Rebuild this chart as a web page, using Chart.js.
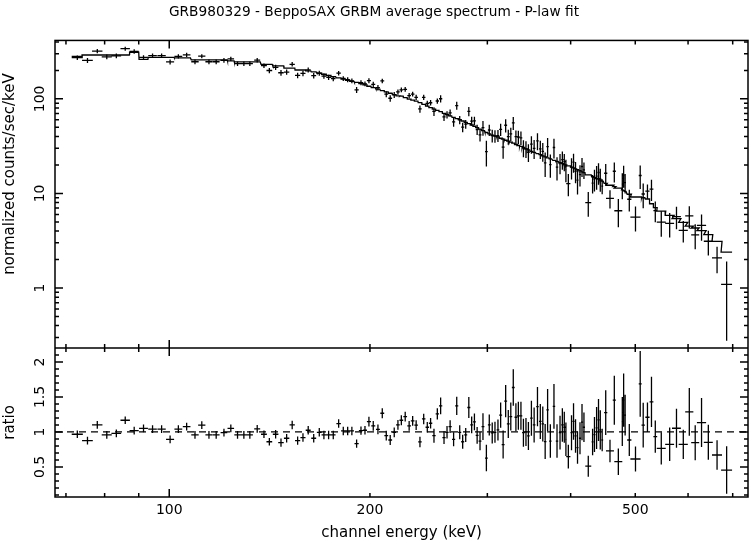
<!DOCTYPE html>
<html>
<head>
<meta charset="utf-8">
<title>GRB980329 - BeppoSAX GRBM average spectrum</title>
<script src="https://cdn.jsdelivr.net/npm/chart.js@4"></script>
<style>
  html, body { margin: 0; padding: 0; background: #fff; }
  #wrap { width: 749px; height: 542px; }
</style>
</head>
<body>
<div id="wrap"><canvas id="spec" width="749" height="542"></canvas></div>
<script>
// channel centres (keV)
const energy = [
  72.8, 75.4, 78.0, 80.6, 83.3, 85.9, 88.6, 91.5, 94.4, 97.4,
  100.3, 103.2, 106.2, 109.3, 111.9, 114.7, 117.6, 120.8, 123.7, 126.6,
  129.4, 132.1, 135.5, 138.7, 141.3, 144.4, 147.1, 150.0, 152.9, 155.8,
  158.7, 161.6, 164.7, 167.9, 170.6, 173.4, 176.2, 179.5, 182.4, 185.2,
  187.9, 191.0, 193.9, 196.6, 199.3, 202.3, 205.6, 208.7, 211.6, 214.5,
  217.5, 220.3, 222.9, 225.9, 229.0, 231.8, 234.6, 237.7, 240.8, 243.8,
  246.6, 249.5, 252.4, 255.3, 258.3, 261.0, 263.8, 267.0, 269.9, 272.7,
  275.5, 278.4, 281.4, 284.2, 286.9, 289.6, 292.5, 295.5, 299.0, 302.0,
  305.1, 308.0, 311.2, 314.1, 316.8, 319.6, 322.5, 325.3, 328.1, 331.1,
  333.9, 336.9, 339.8, 342.8, 345.7, 349.3, 352.6, 356.7, 360.2, 363.3,
  366.3, 369.4, 372.9, 377.6, 381.6, 385.6, 388.7, 391.3, 393.5, 396.8,
  401.2, 404.0, 406.8, 409.6, 413.1, 416.0, 418.8, 425.1, 431.5, 434.3,
  437.5, 440.4, 443.1, 446.0, 451.5, 458.2, 465.1, 471.6, 478.1, 480.3,
  482.8, 489.8, 500.4, 508.6, 513.9, 521.5, 528.8, 535.8, 547.0, 563.1,
  576.5, 590.2, 602.6, 615.0, 628.6, 643.5, 663.2, 685.5
];

// half width of each (grouped) channel, keV
const halfWidth = [
  1.4, 1.4, 1.4, 1.4, 1.4, 1.4, 1.4, 1.4, 1.4, 1.4,
  1.4, 1.4, 1.4, 1.4, 1.4, 1.4, 1.4, 1.4, 1.4, 1.4,
  1.4, 1.4, 1.4, 1.4, 1.4, 1.4, 1.4, 1.4, 1.4, 1.4,
  1.4, 1.4, 1.4, 1.4, 1.4, 1.4, 1.4, 1.4, 1.4, 1.4,
  1.4, 1.4, 1.4, 1.4, 1.4, 1.4, 1.4, 1.4, 1.4, 1.4,
  1.4, 1.4, 1.45, 1.45, 1.45, 1.45, 1.45, 1.45, 1.45, 1.45,
  1.45, 1.45, 1.45, 1.45, 1.45, 1.45, 1.45, 1.45, 1.45, 1.45,
  1.45, 1.45, 1.45, 1.45, 1.45, 1.45, 1.45, 1.45, 1.45, 1.45,
  1.45, 1.45, 1.45, 1.6, 1.6, 1.6, 1.6, 1.6, 1.6, 1.6,
  1.6, 1.6, 1.6, 1.6, 1.6, 1.6, 1.6, 1.6, 1.6, 1.6,
  1.6, 1.6, 1.6, 1.6, 1.6, 1.6, 1.6, 1.4, 1.0, 2.9,
  1.5, 1.5, 1.5, 1.5, 1.5, 1.5, 1.5, 4.4, 1.5, 1.5,
  1.5, 1.5, 1.5, 1.5, 2.5, 6.3, 2.5, 6.5, 1.2, 1.2,
  1.5, 3.6, 8.8, 2.6, 3.0, 3.8, 3.5, 3.5, 8.5, 8.7,
  8.8, 9.3, 8.5, 8.5, 10, 10, 11.5, 13
];

// folded P-law model (normalized counts/sec/keV) in each channel
const model = [
  282, 291, 291, 291, 291, 291, 311, 262, 275, 275,
  275, 271, 271, 258, 258, 258, 258, 258, 252, 246,
  246, 246, 246, 232, 232, 223, 223, 211, 211, 202,
  202, 197.6, 193, 187.5, 182, 176.6, 171.6, 166.7, 161.8, 157.2,
  153, 149.3, 145.4, 140.6, 135.9, 131.3, 126.6, 122.1, 118.3, 114.6,
  110.7, 107.6, 106.8, 103.2, 99.5, 97.1, 94.6, 91.4, 87.5, 83.7,
  80.9, 77.8, 75.4, 73.1, 70.3, 68.3, 66.1, 63.8, 61.9, 60.2,
  58.3, 56.5, 54.6, 52.9, 51.3, 49.7, 47.9, 46.1, 44.1, 42.6,
  41.4, 40.6, 39.7, 38.3, 37.6, 36.5, 35.8, 34.9, 34.0, 32.9,
  32.1, 31.5, 30.6, 29.6, 28.9, 27.8, 27.2, 26.4, 25.7, 25.0,
  24.4, 23.8, 23.2, 22.4, 21.8, 21.2, 20.7, 20.3, 20.0, 19.6,
  19.0, 18.6, 18.2, 17.8, 17.4, 16.9, 16.6, 15.7, 15.0, 14.7,
  14.4, 14.2, 13.9, 13.5, 12.8, 12.2, 11.8, 11.4, 10.9, 10.7,
  10.5, 9.8, 9.16, 9.16, 9.0, 8.73, 7.78, 7.06, 6.49, 5.85,
  5.41, 4.94, 4.50, 4.31, 4.04, 3.66, 3.11, 2.40
];

// data / model, from the lower panel
const ratio = [
  0.967, 0.876, 1.10, 0.957, 0.98, 1.167, 1.02, 1.05, 1.04, 1.04,
  0.895, 1.04, 1.076, 0.957, 1.096, 0.957, 0.957, 0.99, 1.05, 0.957,
  0.957, 0.957, 1.043, 0.967, 0.86, 0.967, 0.847, 0.91, 1.10, 0.876,
  0.92, 1.024, 0.91, 0.995, 0.957, 0.957, 0.957, 1.12, 1.014, 1.014,
  1.014, 0.833, 1.019, 1.024, 1.148, 1.086, 1.038, 1.267, 0.947, 0.885,
  0.995, 1.10, 1.167, 1.22, 1.086, 1.158, 1.096, 0.857, 1.186, 1.067,
  1.124, 0.947, 1.258, 1.372, 0.919, 0.995, 1.076, 0.895, 1.372, 0.995,
  0.86, 0.957, 1.349, 1.10, 1.143, 0.952, 0.87, 1.076, 0.627, 1.10,
  0.986, 0.995, 1.029, 1.24, 0.82, 1.44, 1.115, 1.22, 1.635, 1.21,
  1.23, 1.23, 0.99, 1.0, 0.943, 1.196, 1.1, 1.363, 1.15, 1.115,
  0.862, 1.315, 0.87, 1.365, 0.87, 0.99, 1.1, 1.067, 0.895, 0.647,
  0.99, 1.15, 0.943, 0.776, 0.91, 1.14, 1.067, 0.51, 0.857, 0.962,
  1.057, 1.172, 1.03, 0.885, 1.277, 0.728, 1.454, 0.575, 1.148, 1.454,
  1.24, 0.885, 0.613, 1.688, 1.096, 1.21, 1.43, 0.933, 0.766, 0.823,
  1.053, 0.823, 1.287, 0.847, 1.134, 0.852, 0.67, 0.455
];

const ratioErr = [
  0.055, 0.055, 0.055, 0.055, 0.055, 0.055, 0.055, 0.055, 0.055, 0.055,
  0.055, 0.055, 0.055, 0.055, 0.055, 0.055, 0.055, 0.055, 0.055, 0.055,
  0.055, 0.055, 0.055, 0.055, 0.055, 0.06, 0.06, 0.06, 0.06, 0.06,
  0.06, 0.06, 0.06, 0.06, 0.06, 0.06, 0.06, 0.06, 0.06, 0.06,
  0.06, 0.06, 0.06, 0.06, 0.07, 0.07, 0.07, 0.07, 0.07, 0.07,
  0.07, 0.07, 0.07, 0.07, 0.07, 0.07, 0.07, 0.075, 0.075, 0.075,
  0.075, 0.10, 0.08, 0.12, 0.09, 0.09, 0.09, 0.10, 0.13, 0.10,
  0.10, 0.10, 0.15, 0.12, 0.12, 0.12, 0.13, 0.19, 0.19, 0.15,
  0.15, 0.15, 0.15, 0.18, 0.20, 0.23, 0.20, 0.20, 0.26, 0.20,
  0.20, 0.20, 0.20, 0.20, 0.20, 0.25, 0.25, 0.28, 0.25, 0.25,
  0.25, 0.30, 0.24, 0.32, 0.24, 0.24, 0.24, 0.22, 0.24, 0.17,
  0.25, 0.26, 0.24, 0.23, 0.23, 0.26, 0.21, 0.15, 0.19, 0.25,
  0.30, 0.30, 0.28, 0.16, 0.32, 0.16, 0.35, 0.19, 0.35, 0.38,
  0.29, 0.23, 0.18, 0.47, 0.32, 0.21, 0.36, 0.23, 0.23, 0.24,
  0.28, 0.21, 0.34, 0.25, 0.35, 0.25, 0.21, 0.34
];

// axes
const xRange = [67.4, 738];
const countRange = [0.232, 414.7];
const ratioRange = [0.07, 2.2];
const xTickLabels = [100, 200, 500];
const xMinorTicks = [70, 80, 90, 200, 300, 400, 500, 600, 700];
const yTickLabels = [1, 10, 100];
const yMinorTicks = [0.3, 0.4, 0.5, 0.6, 0.7, 0.8, 0.9, 2, 3, 4, 5, 6, 7, 8, 9,
  20, 30, 40, 50, 60, 70, 80, 90, 200, 300, 400];
const ratioTickLabels = [0.5, 1, 1.5, 2];
const ratioMinorTicks = [0.1, 0.2, 0.3, 0.4, 0.6, 0.7, 0.8, 0.9, 1.1, 1.2, 1.3, 1.4,
  1.6, 1.7, 1.8, 1.9, 2.1, 2.2];

const FONT = "'DejaVu Sans', sans-serif";
const INK = '#000';

// model drawn as a histogram over the channel widths
const modelSteps = [];
energy.forEach((e, i) => {
  modelSteps.push({ x: e - halfWidth[i], y: model[i] });
  modelSteps.push({ x: e + halfWidth[i], y: model[i] });
});

const countPoints = energy.map((e, i) => ({
  x: e, y: ratio[i] * model[i],
  xLo: e - halfWidth[i], xHi: e + halfWidth[i],
  yLo: (ratio[i] - ratioErr[i]) * model[i], yHi: (ratio[i] + ratioErr[i]) * model[i]
}));

const ratioPoints = energy.map((e, i) => ({
  x: e, y: ratio[i],
  xLo: e - halfWidth[i], xHi: e + halfWidth[i],
  yLo: ratio[i] - ratioErr[i], yHi: ratio[i] + ratioErr[i]
}));

// crosses: channel width and 1-sigma error
const errorBars = {
  id: 'errorBars',
  afterDatasetsDraw(chart) {
    const { ctx, chartArea: a } = chart;
    ctx.save();
    ctx.beginPath();
    ctx.rect(a.left, a.top, a.right - a.left, a.bottom - a.top);
    ctx.clip();
    ctx.strokeStyle = INK;
    ctx.lineWidth = 1.3;
    chart.data.datasets.forEach((ds, di) => {
      if (!ds.errorBars) return;
      const meta = chart.getDatasetMeta(di);
      const xs = meta.xScale, ys = meta.yScale;
      ctx.beginPath();
      ds.data.forEach(p => {
        const px = xs.getPixelForValue(p.x);
        const py = ys.getPixelForValue(p.y);
        ctx.moveTo(xs.getPixelForValue(p.xLo), py);
        ctx.lineTo(xs.getPixelForValue(p.xHi), py);
        ctx.moveTo(px, ys.getPixelForValue(p.yLo));
        ctx.lineTo(px, ys.getPixelForValue(p.yHi));
      });
      ctx.stroke();
    });
    ctx.restore();
  }
};

// pgplot style box: frame, panel divider, inward ticks on every side
const frameTicks = {
  id: 'frameTicks',
  afterDraw(chart) {
    const { ctx, chartArea: a, scales } = chart;
    const { x, y, y2 } = scales;
    const mid = y.bottom;
    ctx.save();
    ctx.strokeStyle = INK;
    ctx.lineWidth = 1.5;
    ctx.strokeRect(a.left, a.top, a.right - a.left, a.bottom - a.top);
    ctx.beginPath();
    ctx.moveTo(a.left, mid);
    ctx.lineTo(a.right, mid);

    const xTick = (v, len) => {
      const px = x.getPixelForValue(v);
      ctx.moveTo(px, a.top); ctx.lineTo(px, a.top + len);
      ctx.moveTo(px, mid - len); ctx.lineTo(px, mid + len);
      ctx.moveTo(px, a.bottom); ctx.lineTo(px, a.bottom - len);
    };
    const yTick = (scale, v, len) => {
      const py = scale.getPixelForValue(v);
      ctx.moveTo(a.left, py); ctx.lineTo(a.left + len, py);
      ctx.moveTo(a.right, py); ctx.lineTo(a.right - len, py);
    };
    xMinorTicks.forEach(v => xTick(v, 4));
    xTickLabels.filter(v => v === 100).forEach(v => xTick(v, 8));
    yMinorTicks.forEach(v => yTick(y, v, 4));
    yTickLabels.forEach(v => yTick(y, v, 8));
    ratioMinorTicks.forEach(v => yTick(y2, v, 4));
    ratioTickLabels.forEach(v => yTick(y2, v, 8));
    ctx.stroke();

    // y title of the upper panel
    ctx.fillStyle = INK;
    ctx.font = '15px ' + FONT;
    ctx.textAlign = 'center';
    ctx.textBaseline = 'middle';
    ctx.translate(10.5, 174);
    ctx.rotate(-Math.PI / 2);
    ctx.fillText('normalized counts/sec/keV', 0, 0);
    ctx.restore();
  }
};

const tickFont = { family: FONT, size: 14 };

new Chart(document.getElementById('spec'), {
  type: 'scatter',
  data: {
    datasets: [
      {
        type: 'line', data: modelSteps, yAxisID: 'y',
        borderColor: INK, borderWidth: 1.3, pointRadius: 0, tension: 0, fill: false
      },
      { data: countPoints, yAxisID: 'y', pointRadius: 0, errorBars: true },
      {
        type: 'line', data: [{ x: xRange[0], y: 1 }, { x: xRange[1], y: 1 }], yAxisID: 'y2',
        borderColor: INK, borderWidth: 1.3, borderDash: [7, 5], pointRadius: 0, fill: false
      },
      { data: ratioPoints, yAxisID: 'y2', pointRadius: 0, errorBars: true }
    ]
  },
  options: {
    responsive: false,
    animation: false,
    events: [],
    layout: { padding: { right: 1 } },
    plugins: {
      legend: { display: false },
      tooltip: { enabled: false },
      title: {
        display: true,
        text: 'GRB980329 - BeppoSAX GRBM average spectrum - P-law fit',
        color: INK,
        font: { family: FONT, size: 13.7, weight: 'normal' },
        padding: { top: 4, bottom: 20 }
      }
    },
    scales: {
      x: {
        type: 'logarithmic', position: 'bottom',
        min: xRange[0], max: xRange[1], bounds: 'data',
        grid: { display: false, drawTicks: false },
        border: { display: false },
        afterBuildTicks: ax => { ax.ticks = xTickLabels.map(v => ({ value: v })); },
        afterFit: ax => { ax.height = 45; },
        ticks: {
          autoSkip: false, maxRotation: 0, color: INK, font: tickFont, padding: 5,
          callback: v => String(v)
        },
        title: {
          display: true, text: 'channel energy (keV)', color: INK,
          font: { family: FONT, size: 15 }, padding: { top: 0, bottom: 0 }
        }
      },
      y: {
        type: 'logarithmic', position: 'left', stack: 'panels', stackWeight: 307.5, weight: 1,
        min: countRange[0], max: countRange[1], bounds: 'data',
        grid: { display: false, drawTicks: false },
        border: { display: false },
        afterBuildTicks: ax => { ax.ticks = yTickLabels.map(v => ({ value: v })); },
        afterFit: ax => { ax.width = 55; },
        ticks: {
          autoSkip: false, minRotation: 90, maxRotation: 90, crossAlign: 'center',
          color: INK, font: tickFont, padding: 1.6, callback: v => String(v)
        }
      },
      y2: {
        type: 'linear', position: 'left', stack: 'panels', stackWeight: 149, weight: 0,
        min: ratioRange[0], max: ratioRange[1], bounds: 'data',
        grid: { display: false, drawTicks: false },
        border: { display: false },
        afterBuildTicks: ax => { ax.ticks = ratioTickLabels.map(v => ({ value: v })); },
        afterFit: ax => { ax.width = 55; },
        ticks: {
          autoSkip: false, minRotation: 90, maxRotation: 90, crossAlign: 'center',
          color: INK, font: tickFont, padding: 3.9, callback: v => String(v)
        },
        title: {
          display: true, text: 'ratio', color: INK,
          font: { family: FONT, size: 15 }, padding: { top: 1.5, bottom: 0 }
        }
      }
    }
  },
  plugins: [errorBars, frameTicks]
});
</script>
</body>
</html>
